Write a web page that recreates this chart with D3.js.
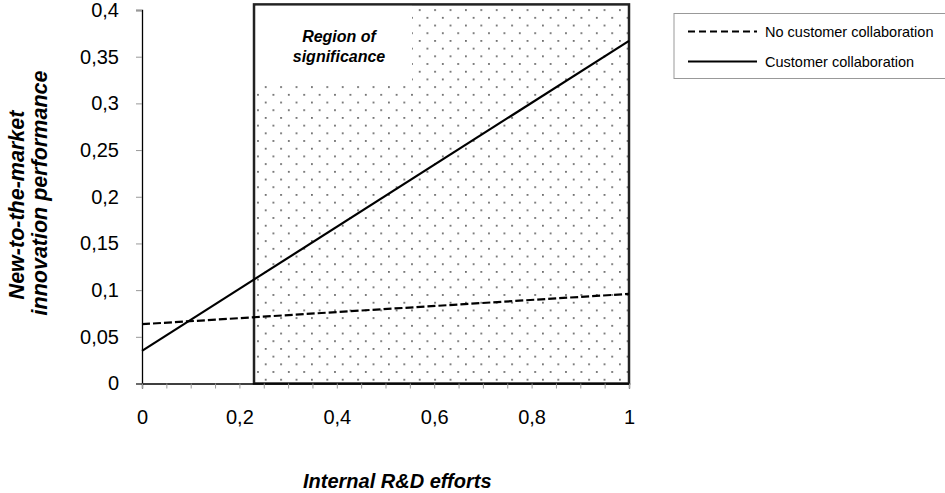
<!DOCTYPE html>
<html>
<head>
<meta charset="utf-8">
<script src="https://cdn.jsdelivr.net/npm/d3@7"></script>
<style>
  body { margin: 0; background: #fff; }
  svg { font-family: "Liberation Sans", Arial, sans-serif; }
</style>
</head>
<body>
<div id="chart"></div>
<script>
// data
const xEnds = [0, 1];
const noCollab = [0.0635, 0.096];
const collab = [0.035, 0.367];
const seriesNames = ["No customer collaboration", "Customer collaboration"];
const regionStart = 0.23;
const regionTop = 0.406;
const yTicks = [0, 0.05, 0.1, 0.15, 0.2, 0.25, 0.3, 0.35, 0.4];
const xTicks = [0, 0.2, 0.4, 0.6, 0.8, 1];
const xMinorTicks = d3.range(0, 21).map(i => i / 20);

const W = 945, H = 493;
const margin = {top: 10, left: 142};
const width = 487, height = 373.5;

const fmt = d => String(+d.toFixed(2)).replace(".", ",");

const svg = d3.select("#chart").append("svg")
    .attr("width", W).attr("height", H);

const defs = svg.append("defs");
const pat = defs.append("pattern")
    .attr("id", "dots")
    .attr("patternUnits", "userSpaceOnUse")
    .attr("x", margin.left + 1).attr("y", 4)
    .attr("width", 15.4).attr("height", 15.4);
pat.append("rect").attr("x", 3).attr("y", 3).attr("width", 1.6).attr("height", 1.6).attr("fill", "#444");
pat.append("rect").attr("x", 10.7).attr("y", 10.7).attr("width", 1.6).attr("height", 1.6).attr("fill", "#444");

const g = svg.append("g").attr("transform", `translate(${margin.left},${margin.top})`);

const x = d3.scaleLinear().domain([0, 1]).range([0, width]);
const y = d3.scaleLinear().domain([0, 0.4]).range([height, 0]);

// region of significance
g.append("rect")
    .attr("x", x(regionStart)).attr("y", y(regionTop))
    .attr("width", x(1) - x(regionStart)).attr("height", y(0) - y(regionTop))
    .attr("fill", "url(#dots)")
    .attr("stroke", "#222").attr("stroke-width", 2.5);

// white label box inside region
g.append("rect")
    .attr("x", x(regionStart) + 2).attr("y", y(regionTop) + 1.5)
    .attr("width", 156).attr("height", 77)
    .attr("fill", "#fff");
g.append("text")
    .attr("x", x(regionStart) + 85).attr("y", 32)
    .attr("text-anchor", "middle")
    .style("font-size", "16px").style("font-weight", "bold").style("font-style", "italic")
    .text("Region of");
g.append("text")
    .attr("x", x(regionStart) + 85).attr("y", 52)
    .attr("text-anchor", "middle")
    .style("font-size", "16px").style("font-weight", "bold").style("font-style", "italic")
    .text("significance");

// axes
const yAxis = g.append("g")
    .call(d3.axisLeft(y).tickValues(yTicks).tickFormat(fmt).tickSize(6).tickPadding(17));
yAxis.select(".domain").attr("stroke", "#000").attr("stroke-width", 1.3);
yAxis.selectAll(".tick line").attr("stroke", "#999");
yAxis.selectAll("text").style("font-size", "20px").attr("fill", "#000");

const xAxisMinor = g.append("g")
    .attr("transform", `translate(0,${height})`)
    .call(d3.axisBottom(x).tickValues(xMinorTicks).tickFormat("").tickSize(5));
xAxisMinor.select(".domain").attr("stroke", "#000").attr("stroke-width", 1.3);
xAxisMinor.selectAll(".tick line").attr("stroke", "#999");

const xAxis = g.append("g")
    .attr("transform", `translate(0,${height})`)
    .call(d3.axisBottom(x).tickValues(xTicks).tickFormat(fmt).tickSize(0).tickPadding(26));
xAxis.select(".domain").remove();
xAxis.selectAll("text").style("font-size", "20px").attr("fill", "#000");

// lines
const line = d3.line().x((d, i) => x(xEnds[i])).y(d => y(d));
g.append("path").datum(noCollab)
    .attr("d", line).attr("fill", "none")
    .attr("stroke", "#000").attr("stroke-width", 2.2)
    .attr("stroke-dasharray", "8,3");
g.append("path").datum(collab)
    .attr("d", line).attr("fill", "none")
    .attr("stroke", "#000").attr("stroke-width", 2.2);

// axis titles
svg.append("text")
    .attr("x", 303).attr("y", 488)
    .style("font-size", "20px").style("font-weight", "bold").style("font-style", "italic")
    .text("Internal R&D efforts");
const yt = svg.append("text")
    .attr("transform", "rotate(-90)")
    .attr("text-anchor", "middle")
    .style("font-size", "21.5px").style("font-weight", "bold").style("font-style", "italic");
yt.append("tspan").attr("x", -205).attr("y", 24).text("New-to-the-market");
yt.append("tspan").attr("x", -193).attr("y", 47).text("innovation performance");

// legend
const lg = svg.append("g").attr("transform", "translate(674,13.5)");
lg.append("rect")
    .attr("x", 0).attr("y", 0).attr("width", 290).attr("height", 65)
    .attr("fill", "#fff").attr("stroke", "#999").attr("stroke-width", 1);
seriesNames.forEach((name, i) => {
    const yy = 18 + i * 30;
    lg.append("line")
        .attr("x1", 14).attr("x2", 83).attr("y1", yy).attr("y2", yy)
        .attr("stroke", "#000").attr("stroke-width", 2)
        .attr("stroke-dasharray", i === 0 ? "7,4" : null);
    lg.append("text")
        .attr("x", 91).attr("y", yy + 5)
        .style("font-size", "14.5px")
        .text(name);
});
</script>
</body>
</html>
